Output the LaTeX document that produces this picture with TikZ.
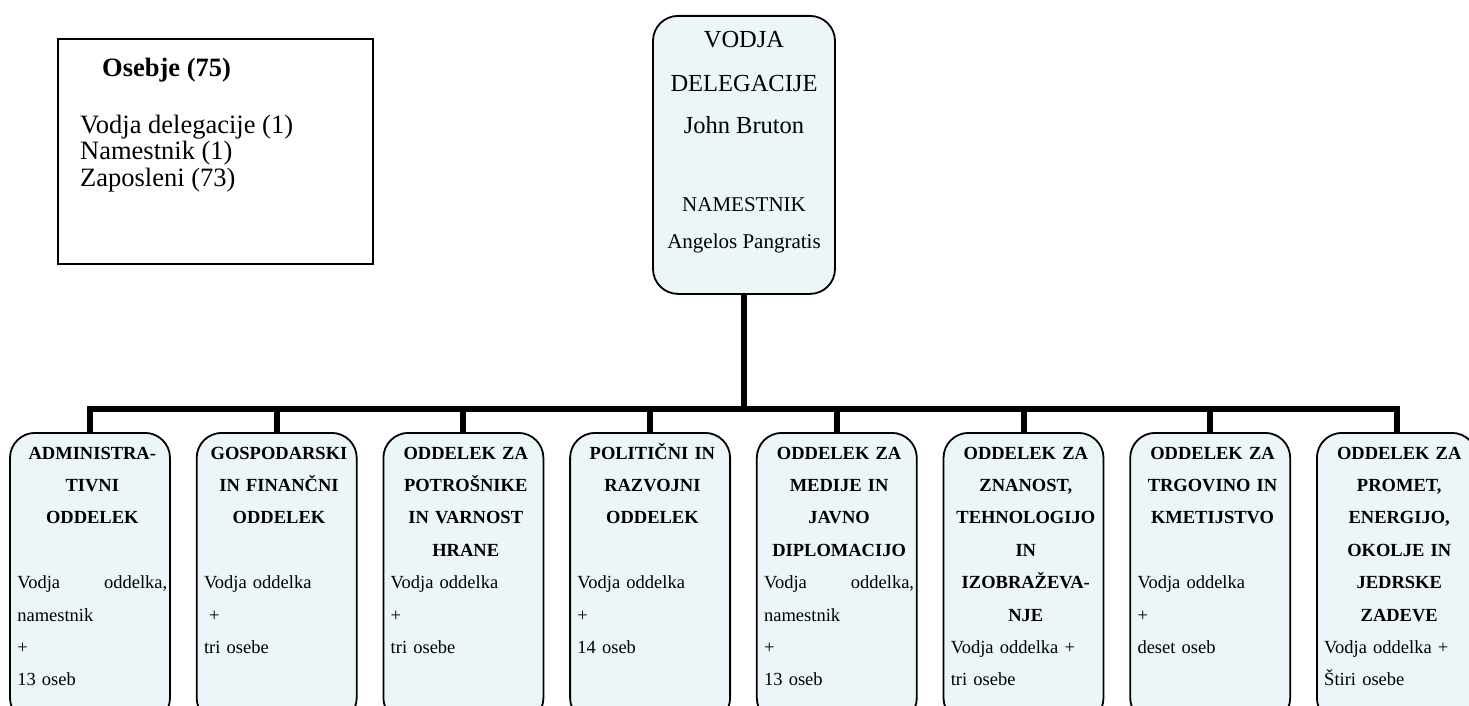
\documentclass[tikz,border=0pt]{standalone}
\usepackage{fontspec}
\setmainfont{Liberation Serif}
\usetikzlibrary{calc}
\definecolor{boxfill}{RGB}{236,246,248}
\newcommand\depthead[1]{\makebox[150pt]{\bfseries #1}}
\newcommand\justline[2]{\makebox[150pt][s]{#1\hfill #2}}
\tikzset{
  dept/.style={draw=black, line width=1.8pt, fill=boxfill, rounded corners=25pt,
    minimum width=160pt, minimum height=290pt, inner sep=0pt, anchor=north},
  headbox/.style={draw=black, line width=1.8pt, fill=boxfill, rounded corners=25pt,
    minimum width=182pt, minimum height=278pt, inner sep=0pt, anchor=north},
  conn/.style={line width=6pt, line join=miter},
  dtext/.style={anchor=base west, inner sep=0pt, text width=150pt, align=left,
    font=\fontsize{18.5}{32.4}\selectfont},
  toptxt/.style={anchor=base, inner sep=0pt, font=\fontsize{24.5}{28}\selectfont},
  topsmall/.style={anchor=base, inner sep=0pt, font=\fontsize{21}{25}\selectfont},
  legtxt/.style={anchor=base west, inner sep=0pt, font=\fontsize{26.5}{30}\selectfont},
  legbox/.style={draw=black, line width=1.8pt, minimum width=315pt, minimum height=225pt,
    inner sep=0pt, anchor=north west},
}
\begin{document}
\begin{tikzpicture}[x=1pt, y=-1pt]
\useasboundingbox (0,0) rectangle (1469,706);
\clip (0,0) rectangle (1469,706);

% legend
\node[legbox] (leg) at (57,38) {};
\node[legtxt] (l0) at (102,77) {\bfseries Osebje (75)};
\node[legtxt] (l1) at (80,133) {Vodja delegacije (1)};
\node[legtxt] (l2) at (80,159.5) {Namestnik (1)};
\node[legtxt] (l3) at (80,186) {Zaposleni (73)};

% head box
\node[headbox] (top) at (744,15) {};
\node[toptxt] (t1) at (744,48) {VODJA};
\node[toptxt] (t2) at (744,92) {DELEGACIJE};
\node[toptxt] (t3) at (744,133) {John Bruton};
\node[topsmall] (t4) at (744,211) {NAMESTNIK};
\node[topsmall] (t5) at (744,248) {Angelos Pangratis};

% department boxes
\foreach \i/\x in {1/90, 2/276.7, 3/463.4, 4/650.1, 5/836.8, 6/1023.5, 7/1210.2, 8/1396.9}{
  \node[dept] (b\i) at (\x,432) {};
}

\coordinate (bar) at (744,408.5);
\draw[conn] (top.south) -- (bar);
\draw[conn] (b1.north) -- (b1.north |- bar) -- (b8.north |- bar) -- (b8.north);
\foreach \i in {2,...,7}{
  \draw[conn] (b\i.north) -- (b\i.north |- bar);
}

\node[dtext] (d1) at ($(b1.north west)+(8,27)$) {\depthead{ADMINISTRA-}\\ \depthead{TIVNI}\\ \depthead{ODDELEK}\\ \mbox{}\\ \justline{Vodja}{oddelka,}\\ namestnik\\ +\\ 13 oseb};
\node[dtext] (d2) at ($(b2.north west)+(8,27)$) {\depthead{GOSPODARSKI}\\ \depthead{IN FINANČNI}\\ \depthead{ODDELEK}\\ \mbox{}\\ Vodja oddelka\\ \hspace*{5pt}+\\ tri osebe};
\node[dtext] (d3) at ($(b3.north west)+(8,27)$) {\depthead{ODDELEK ZA}\\ \depthead{POTROŠNIKE}\\ \depthead{IN VARNOST}\\ \depthead{HRANE}\\ Vodja oddelka\\ +\\ tri osebe};
\node[dtext] (d4) at ($(b4.north west)+(8,27)$) {\depthead{POLITIČNI IN}\\ \depthead{RAZVOJNI}\\ \depthead{ODDELEK}\\ \mbox{}\\ Vodja oddelka\\ +\\ 14 oseb};
\node[dtext] (d5) at ($(b5.north west)+(8,27)$) {\depthead{ODDELEK ZA}\\ \depthead{MEDIJE IN}\\ \depthead{JAVNO}\\ \depthead{DIPLOMACIJO}\\ \justline{Vodja}{oddelka,}\\ namestnik\\ +\\ 13 oseb};
\node[dtext] (d6) at ($(b6.north west)+(8,27)$) {\depthead{ODDELEK ZA}\\ \depthead{ZNANOST,}\\ \depthead{TEHNOLOGIJO}\\ \depthead{IN}\\ \depthead{IZOBRAŽEVA-}\\ \depthead{NJE}\\ Vodja oddelka +\\ tri osebe};
\node[dtext] (d7) at ($(b7.north west)+(8,27)$) {\depthead{ODDELEK ZA}\\ \depthead{TRGOVINO IN}\\ \depthead{KMETIJSTVO}\\ \mbox{}\\ Vodja oddelka\\ +\\ deset oseb};
\node[dtext] (d8) at ($(b8.north west)+(8,27)$) {\depthead{ODDELEK ZA}\\ \depthead{PROMET,}\\ \depthead{ENERGIJO,}\\ \depthead{OKOLJE IN}\\ \depthead{JEDRSKE}\\ \depthead{ZADEVE}\\ Vodja oddelka +\\ Štiri osebe};
\end{tikzpicture}
\end{document}
